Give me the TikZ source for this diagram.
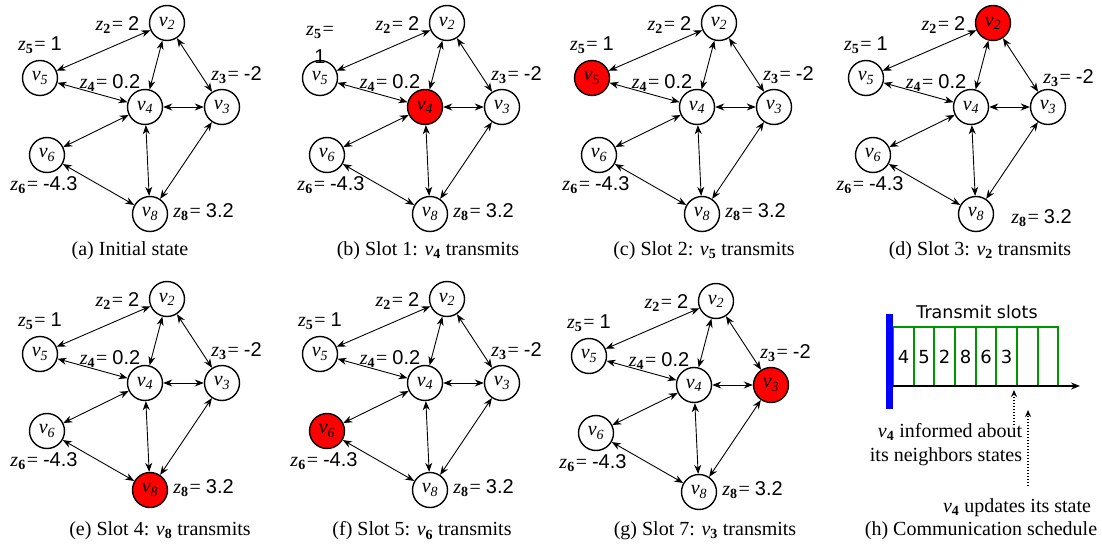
\documentclass[tikz,border=0pt]{standalone}
\usepackage{fontspec}
\setmainfont{Liberation Serif}
\setsansfont{Liberation Sans}
\newfontfamily\dejavu{DejaVu Sans}
\usetikzlibrary{arrows.meta}
\definecolor{slotgreen}{RGB}{0,150,0}
\definecolor{barblue}{RGB}{0,0,255}
\definecolor{hotred}{RGB}{255,0,0}
\newcommand\zl[2]{\textit{z}\textsubscript{\textbf{#1}}\kern1pt= {\sffamily #2}}
\newcommand\vn[1]{\textit{v}\textsubscript{\textit{#1}}}
\newcommand\vb[1]{\textit{v}\textsubscript{\textbf{#1}}}
\newcommand\zfivetxt{\zl{5}{1}}
\tikzset{
  h0/.style={},h2/.style={},h3/.style={},h4/.style={},h5/.style={},h6/.style={},h8/.style={},
  lz3/.style={},lz8/.style={},lz6/.style={},
  vnode/.style={circle,draw,line width=1.4pt,minimum size=35pt,inner sep=0pt,fill=white,
    font=\fontsize{20}{24}\selectfont},
  lbl/.style={inner sep=0pt,font=\fontsize{20}{24}\selectfont},
  captxt/.style={inner sep=0pt,font=\fontsize{20}{24}\selectfont},
  arr/.style={{Stealth[length=9pt,width=7pt]}-{Stealth[length=9pt,width=7pt]},line width=0.9pt},
  slotbox/.style={draw=slotgreen,line width=1.3pt},
  numtxt/.style={inner sep=0pt,font=\dejavu\fontsize{18}{20}\selectfont},
  dotarr/.style={line width=1.5pt,dash pattern=on 1.3pt off 1.7pt,-{Stealth[length=7pt,width=6pt]}},
}
\newcommand\gpanel[4]{%
\begin{scope}[shift={(#2,#3)}]
\tikzset{h#4/.style={fill=hotred}}
\node[vnode,h2] (#1v2) at (167,23) {\vn{2}};
\node[vnode,h5] (#1v5) at (40,78) {\vn{5}};
\node[vnode,h4] (#1v4) at (145,107) {\vn{4}};
\node[vnode,h3] (#1v3) at (222,107) {\vn{3}};
\node[vnode,h6] (#1v6) at (47,155) {\vn{6}};
\node[vnode,h8] (#1v8) at (150,214) {\vn{8}};
\draw[arr] (#1v5) -- (#1v2);
\draw[arr] (#1v2) -- (#1v4);
\draw[arr] (#1v2) -- (#1v3);
\draw[arr] (#1v5) -- (#1v4);
\draw[arr] (#1v4) -- (#1v3);
\draw[arr] (#1v4) -- (#1v6);
\draw[arr] (#1v4) -- (#1v8);
\draw[arr] (#1v3) -- (#1v8);
\draw[arr] (#1v6) -- (#1v8);
\node[lbl] (#1z2) at (117.5,25) {\zl{2}{2}};
\node[lbl,align=center] (#1z5) at (40,45) {\zfivetxt};
\node[lbl] (#1z4) at (110,83) {\zl{4}{0.2}};
\node[lbl,lz3] (#1z3) at (236.5,75) {\zl{3}{-2}};
\node[lbl,lz6] (#1z6) at (44,185) {\zl{6}{-4.3}};
\node[lbl,lz8] (#1z8) at (203.5,212) {\zl{8}{3.2}};
\end{scope}}
\begin{document}
\begin{tikzpicture}[x=1pt,y=-1pt]
\useasboundingbox (0,0) rectangle (1102,548);
% top row
\gpanel{a}{0}{0}{0}
{\renewcommand\zfivetxt{\zl{5}{}\\[4pt]{\sffamily 1}}\tikzset{lz6/.style={xshift=7pt}}\gpanel{b}{280}{0}{4}}
\gpanel{c}{552}{0}{5}
{\tikzset{lz8/.style={xshift=12pt,yshift=-6pt},lz3/.style={xshift=6pt,yshift=-3pt}}\gpanel{d}{826}{0}{2}}
% bottom row
\gpanel{e}{0}{276}{8}
\gpanel{f}{280}{276}{6}
\gpanel{g}{549}{278}{3}
% captions
\node[captxt] (ca) at (130,251) {(a) Initial state};
\node[captxt] (cb) at (428,251) {(b) Slot 1: \vb{4} transmits};
\node[captxt] (cc) at (704,251) {(c) Slot 2: \vb{5} transmits};
\node[captxt] (cd) at (980,251) {(d) Slot 3: \vb{2} transmits};
\node[captxt] (ce) at (160,531) {(e) Slot 4: \vb{8} transmits};
\node[captxt] (cf) at (422,531) {(f) Slot 5: \vb{6} transmits};
\node[captxt] (cg) at (705,531) {(g) Slot 7: \vb{3} transmits};
\node[captxt] (ch) at (981,531) {(h) Communication schedule};
% panel h: schedule
\node[numtxt,font=\dejavu\fontsize{17.5}{20}\selectfont] (ts) at (977,312) {Transmit slots};
\foreach \xa/\xb in {893/914,914/934,934/955,955/976,976/996,996/1017,1017/1038,1038/1058}{
  \draw[slotbox] (\xa,327) rectangle (\xb,386);
}
\node[numtxt] (s1) at (903.5,357) {4};
\node[numtxt] (s2) at (924,357) {5};
\node[numtxt] (s3) at (944.5,357) {2};
\node[numtxt] (s4) at (965.5,357) {8};
\node[numtxt] (s5) at (986,357) {6};
\node[numtxt] (s6) at (1006.5,357) {3};
\coordinate (ax0) at (890,386);
\coordinate (ax1) at (1080,386);
\draw[line width=1.8pt,-{Stealth[length=9pt,width=7pt]}] (ax0) -- (ax1);
\fill[barblue] (886,314) rectangle (893,409);
\node[lbl,align=right] (inf) at (946,445) {\vb{4} informed about\\its neighbors states};
\node[lbl] (upd) at (1017,508) {\vb{4} updates its state};
\coordinate (p1) at (1014,425);
\coordinate (q1) at (1014,390);
\coordinate (p2) at (1028,486);
\coordinate (q2) at (1028,410);
\draw[dotarr] (p1) -- (q1);
\draw[dotarr] (p2) -- (q2);
\end{tikzpicture}
\end{document}
